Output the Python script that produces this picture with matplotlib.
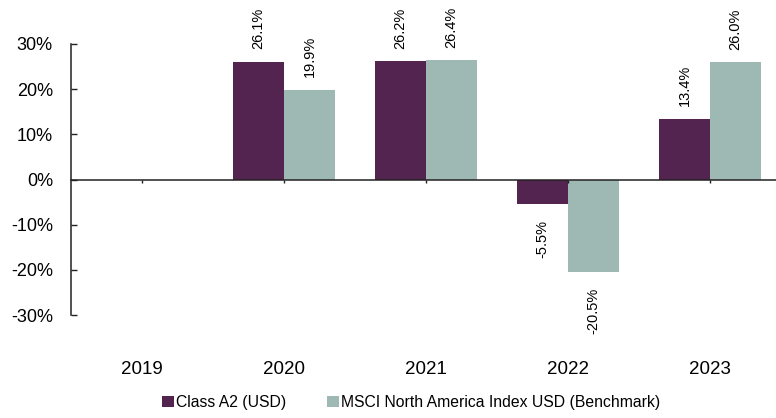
import matplotlib
matplotlib.use("Agg")
import matplotlib.pyplot as plt
import numpy as np

plt.rcParams['font.family'] = ['Liberation Sans', 'DejaVu Sans']

# data
years = ['2019', '2020', '2021', '2022', '2023']
fund = [np.nan, 26.1, 26.2, -5.5, 13.4]
bench = [np.nan, 19.9, 26.4, -20.5, 26.0]
fund_name = 'Class A2 (USD)'
bench_name = 'MSCI North America Index USD (Benchmark)'

purple = '#53244F'
teal = '#9EB8B4'

fig = plt.figure(figsize=(7.76, 4.18), dpi=100)
ax = fig.add_axes([71/776, 1-315/418, 1-71/776, (315-44)/418])

x = np.arange(len(years))
w = 0.36
b1 = ax.bar(x - w/2, fund, w, color=purple, label=fund_name)
b2 = ax.bar(x + w/2, bench, w, color=teal, label=bench_name)

# value labels, rotated
for bars, vals in [(b1, fund), (b2, bench)]:
    for rect, v in zip(bars, vals):
        if np.isnan(v):
            continue
        xc = rect.get_x() + rect.get_width()/2
        if v >= 0:
            ax.annotate(f'{v:.1f}%', (xc, v), xytext=(0, 9), textcoords='offset points',
                        rotation=90, ha='center', va='bottom', fontsize=10.5)
        else:
            ax.annotate(f'{v:.1f}%', (xc, v), xytext=(0, -11), textcoords='offset points',
                        rotation=90, ha='center', va='top', fontsize=10.5)

ax.set_ylim(-30, 30)
ax.set_xlim(-0.5, 4.465)
ax.set_yticks([-30, -20, -10, 0, 10, 20, 30])
ax.set_yticklabels([f'{t}%' for t in [-30, -20, -10, 0, 10, 20, 30]])
ax.set_xticks(x)
ax.set_xticklabels(years)

for s in ['top', 'right']:
    ax.spines[s].set_visible(False)
ax.spines['bottom'].set_position(('data', 0))
ax.spines['left'].set_color('#222222')
ax.spines['bottom'].set_color('#222222')
ax.spines['left'].set_linewidth(1.1)
ax.spines['bottom'].set_linewidth(1.1)

ax.tick_params(axis='y', direction='in', length=4, width=1, pad=13, labelsize=13, colors='#222222', labelcolor='black')
ax.tick_params(axis='x', direction='out', length=2.5, width=1, pad=128, labelsize=13.5, colors='#222222', labelcolor='black')

fig.legend(loc='lower center', bbox_to_anchor=(0.53, -0.015), ncol=2, frameon=False,
           fontsize=11.3, handlelength=0.75, handleheight=0.75, handletextpad=0.15,
           columnspacing=2.6)

fig.savefig('out.png', dpi=100)
